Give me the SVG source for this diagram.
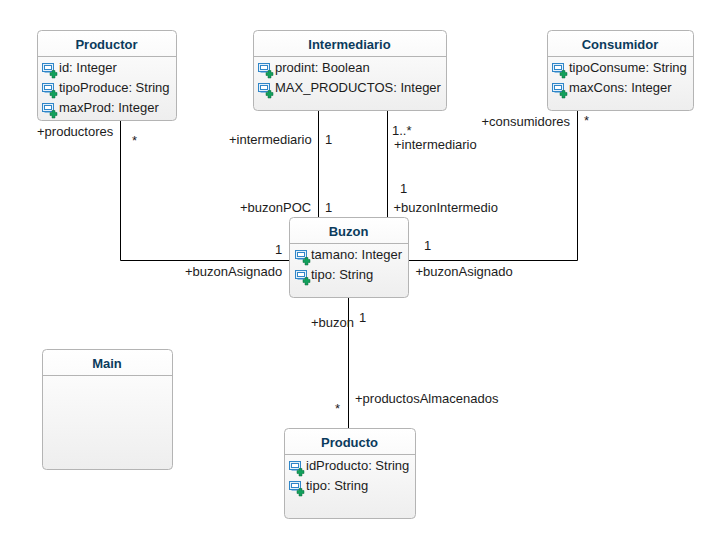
<svg xmlns="http://www.w3.org/2000/svg" width="723" height="548" viewBox="0 0 723 548">
<style>
text{font-family:"Liberation Sans",Arial,sans-serif;font-size:13px;fill:#1c1c1c}
.t{font-weight:bold;fill:#0b3b5c;text-anchor:middle}
.b{fill:url(#g);stroke:#b4b4b4;stroke-width:1}
.s{stroke:#b4b4b4;stroke-width:1;fill:none}
.c{stroke:#000;stroke-width:1;fill:none}
</style>
<defs>
<linearGradient id="g" x1="0" y1="0" x2="0" y2="1"><stop offset="0" stop-color="#fff"/><stop offset="1" stop-color="#eee"/></linearGradient>
<g id="i">
<rect x="0.500" y="0.500" width="11" height="8" fill="#e4f0fa" stroke="#2f86c8"/>
<rect x="2.500" y="2.500" width="7" height="4" fill="#fff" stroke="#2f86c8"/>
<path d="M2.500 9.500H8" stroke="#8fbde0" fill="none"/>
<path d="M10 7.500h3v2h2v3h-2v2.500h-3v-2.500h-2v-3h2z" fill="#12a05c" stroke="#0b6b3a" stroke-width="0.500"/>
</g>
</defs>
<rect width="723" height="548" fill="#fff"/>
<g id="connectors">
<path class="c" d="M120.500 121V260.500H290"/>
<path class="c" d="M318.500 110V218"/>
<path class="c" d="M387.500 110V218"/>
<path class="c" d="M577.500 110V260.500H408"/>
<path class="c" d="M348.500 297V429"/>
<text x="37" y="136">+productores</text><text x="132" y="145">*</text>
<text x="229" y="144">+intermediario</text><text x="325" y="144">1</text>
<text x="240" y="212">+buzonPOC</text><text x="325" y="212">1</text>
<text x="392" y="135">1..*</text><text x="394" y="149">+intermediario</text>
<text x="400" y="193">1</text><text x="393.500" y="212">+buzonIntermedio</text>
<text x="275" y="254">1</text><text x="185" y="276">+buzonAsignado</text>
<text x="424" y="250">1</text><text x="415.500" y="276">+buzonAsignado</text>
<text x="481.500" y="126">+consumidores</text><text x="584" y="125">*</text>
<text x="311" y="327">+buzon</text><text x="359" y="322">1</text>
<text x="335" y="413">*</text><text x="355" y="403">+productosAlmacenados</text>
</g>
<g id="Productor">
<rect class="b" x="37.500" y="30.500" width="139" height="90" rx="4"/>
<path class="s" d="M37.500 56.500H176.500"/>
<text class="t" x="106.500" y="49">Productor</text>
<use href="#i" x="42" y="63"/><text x="59" y="72">id: Integer</text>
<use href="#i" x="42" y="83"/><text x="59" y="92">tipoProduce: String</text>
<use href="#i" x="42" y="103"/><text x="59" y="112">maxProd: Integer</text>
</g>
<g id="Intermediario">
<rect class="b" x="253.500" y="30.500" width="193" height="80" rx="4"/>
<path class="s" d="M253.500 56.500H446.500"/>
<text class="t" x="349.500" y="49">Intermediario</text>
<use href="#i" x="258" y="63"/><text x="275" y="72">prodint: Boolean</text>
<use href="#i" x="258" y="83"/><text x="275" y="92">MAX_PRODUCTOS: Integer</text>
</g>
<g id="Consumidor">
<rect class="b" x="547.500" y="30.500" width="146" height="80" rx="4"/>
<path class="s" d="M547.500 56.500H693.500"/>
<text class="t" x="620" y="49">Consumidor</text>
<use href="#i" x="552" y="63"/><text x="569" y="72">tipoConsume: String</text>
<use href="#i" x="552" y="83"/><text x="569" y="92">maxCons: Integer</text>
</g>
<g id="Buzon">
<rect class="b" x="289.500" y="217.500" width="119" height="80" rx="4"/>
<path class="s" d="M289.500 243.500H408.500"/>
<text class="t" x="348.500" y="236">Buzon</text>
<use href="#i" x="295" y="250"/><text x="311" y="259">tamano: Integer</text>
<use href="#i" x="295" y="270"/><text x="311" y="279">tipo: String</text>
</g>
<g id="Main">
<rect class="b" x="42.500" y="349.500" width="130" height="120" rx="4"/>
<path class="s" d="M42.500 375.500H172.500"/>
<text class="t" x="107" y="368">Main</text>
</g>
<g id="Producto">
<rect class="b" x="284.500" y="428.500" width="131" height="90" rx="4"/>
<path class="s" d="M284.500 454.500H415.500"/>
<text class="t" x="349.500" y="447">Producto</text>
<use href="#i" x="289" y="461"/><text x="306" y="470">idProducto: String</text>
<use href="#i" x="289" y="481"/><text x="306" y="490">tipo: String</text>
</g>
</svg>
